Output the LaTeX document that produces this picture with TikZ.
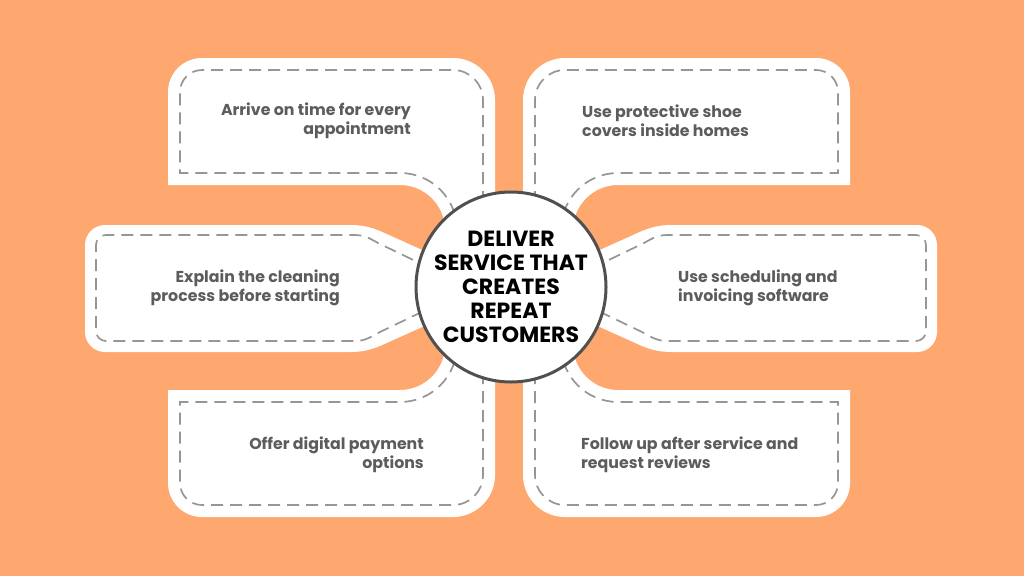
\documentclass[tikz,border=0pt]{standalone}
\usepackage{fontspec}
\setmainfont{Poppins}
\definecolor{bgor}{RGB}{254,167,111}
\definecolor{dashgray}{RGB}{150,150,150}
\definecolor{txtgray}{RGB}{92,92,92}
\definecolor{ringgray}{RGB}{80,80,80}
\begin{document}
\begin{tikzpicture}[x=1pt,y=-1pt,
  panel/.style={fill=white},
  dashline/.style={draw=dashgray,line width=1.7pt,dash pattern=on 12pt off 7pt},
  lbltxt/.style={text=txtgray,inner sep=0pt,font=\bfseries\fontsize{15.8}{19}\selectfont},
  hubtxt/.style={circle,draw=ringgray,line width=3pt,fill=white,minimum size=190pt,inner sep=0pt,align=center,font=\bfseries\fontsize{22}{24}\selectfont}]
\useasboundingbox (0,0) rectangle (1024,576);
\fill[bgor] (0,0) rectangle (1024,576);
% top-left panel
\fill[panel] (168,185) -- (168,92) arc[start angle=180,end angle=270,radius=34] -- (453,58) arc[start angle=270,end angle=360,radius=42] -- (495,260) -- (445,260) -- (445,230) arc[start angle=0,end angle=-90,radius=45] -- cycle;
\draw[dashline] (483,260) -- (483,100) arc[start angle=0,end angle=-90,radius=30] -- (202,70) arc[start angle=270,end angle=180,radius=22] -- (180,173) -- (400,173) arc[start angle=-90,end angle=0,radius=57];
% bottom-left panel
\fill[panel] (168,390) -- (168,483) arc[start angle=180,end angle=90,radius=34] -- (453,517) arc[start angle=90,end angle=0,radius=42] -- (495,315) -- (445,315) -- (445,345) arc[start angle=0,end angle=90,radius=45] -- cycle;
\draw[dashline] (483,315) -- (483,475) arc[start angle=0,end angle=90,radius=30] -- (202,505) arc[start angle=90,end angle=180,radius=22] -- (180,402) -- (400,402) arc[start angle=90,end angle=0,radius=57];
% top-right panel
\fill[panel] (850,185) -- (850,92) arc[start angle=0,end angle=-90,radius=34] -- (565,58) arc[start angle=270,end angle=180,radius=42] -- (523,260) -- (573,260) -- (573,230) arc[start angle=180,end angle=270,radius=45] -- cycle;
\draw[dashline] (535,260) -- (535,100) arc[start angle=180,end angle=270,radius=30] -- (816,70) arc[start angle=-90,end angle=0,radius=22] -- (838,173) -- (618,173) arc[start angle=270,end angle=180,radius=57];
% bottom-right panel
\fill[panel] (850,390) -- (850,483) arc[start angle=0,end angle=90,radius=34] -- (565,517) arc[start angle=90,end angle=180,radius=42] -- (523,315) -- (573,315) -- (573,345) arc[start angle=180,end angle=90,radius=45] -- cycle;
\draw[dashline] (535,315) -- (535,475) arc[start angle=180,end angle=90,radius=30] -- (816,505) arc[start angle=90,end angle=0,radius=22] -- (838,402) -- (618,402) arc[start angle=90,end angle=180,radius=57];
% middle-left panel
\fill[panel] (105,225) -- (350,225) .. controls (362,225) and (370,227) .. (380,231) -- (440,258) -- (440,319) -- (380,346) .. controls (370,350) and (362,352) .. (350,352) -- (105,352) arc[start angle=90,end angle=180,radius=20] -- (85,245) arc[start angle=180,end angle=270,radius=20] -- cycle;
\draw[dashline] (430,268) -- (380,244) .. controls (372,240) and (366,235) .. (355,235) -- (106,235) arc[start angle=270,end angle=180,radius=10] -- (96,331) arc[start angle=180,end angle=90,radius=10] -- (355,341) .. controls (366,341) and (372,336) .. (380,332) -- (430,308);
% middle-right panel
\fill[panel] (917,225) -- (672,225) .. controls (660,225) and (652,227) .. (642,231) -- (582,258) -- (582,319) -- (642,346) .. controls (652,350) and (660,352) .. (672,352) -- (917,352) arc[start angle=90,end angle=0,radius=20] -- (937,245) arc[start angle=0,end angle=-90,radius=20] -- cycle;
\draw[dashline] (592,268) -- (642,244) .. controls (650,240) and (656,235) .. (667,235) -- (916,235) arc[start angle=-90,end angle=0,radius=10] -- (926,331) arc[start angle=0,end angle=90,radius=10] -- (667,341) .. controls (656,341) and (650,336) .. (642,332) -- (592,308);
% hub
\node[hubtxt] (hub) at (511,287) {DELIVER\\SERVICE THAT\\CREATES\\REPEAT\\CUSTOMERS};
% labels
\node[lbltxt,align=right,anchor=east] (tl) at (411,121) {Arrive on time for every\\appointment};
\node[lbltxt,align=left,anchor=west] (tr) at (582,121) {Use protective shoe\\covers inside homes};
\node[lbltxt,align=right,anchor=east] (ml) at (340,287.5) {Explain the cleaning\\process before starting};
\node[lbltxt,align=left,anchor=west] (mr) at (678,287.5) {Use scheduling and\\invoicing software};
\node[lbltxt,align=right,anchor=east] (bl) at (424,455) {Offer digital payment\\options};
\node[lbltxt,align=left,anchor=west] (br) at (581,455) {Follow up after service and\\request reviews};
\end{tikzpicture}
\end{document}
